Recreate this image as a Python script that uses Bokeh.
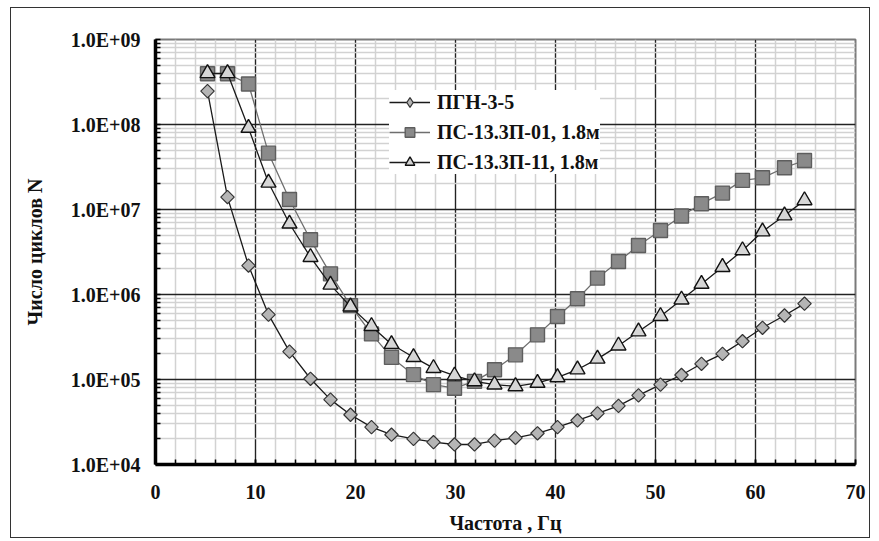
import math
from bokeh.plotting import figure
from bokeh.models import (Range1d, CustomJSTickFormatter, FixedTicker, Legend,
                          LegendItem, ColumnDataSource)
from bokeh.embed import file_html
from bokeh.resources import INLINE

# ---- data ----
freq = [5.2, 7.2, 9.3, 11.3, 13.4, 15.5, 17.5, 19.5, 21.6, 23.6,
        25.8, 27.8, 29.9, 31.9, 33.9, 36.0, 38.2, 40.2, 42.2, 44.2,
        46.3, 48.3, 50.5, 52.6, 54.6, 56.7, 58.7, 60.7, 62.9, 64.9]
pgn = [2.47e8, 1.4e7, 2.19e6, 5.8e5, 2.13e5, 1.02e5, 5.8e4, 3.85e4, 2.75e4, 2.24e4,
       2.0e4, 1.83e4, 1.72e4, 1.72e4, 1.91e4, 2.06e4, 2.33e4, 2.75e4, 3.3e4, 4.0e4,
       4.9e4, 6.5e4, 8.7e4, 1.13e5, 1.53e5, 2.0e5, 2.82e5, 4.06e5, 5.66e5, 7.8e5]
ps01 = [3.95e8, 3.95e8, 3.0e8, 4.6e7, 1.31e7, 4.4e6, 1.75e6, 7.4e5, 3.44e5, 1.82e5,
        1.14e5, 8.7e4, 7.9e4, 9.5e4, 1.3e5, 1.95e5, 3.35e5, 5.5e5, 8.9e5, 1.56e6,
        2.44e6, 3.77e6, 5.66e6, 8.4e6, 1.17e7, 1.56e7, 2.2e7, 2.36e7, 3.1e7, 3.77e7]
ps11 = [4.0e8, 4.0e8, 9.1e7, 2.06e7, 6.8e6, 2.75e6, 1.3e6, 7.2e5, 4.24e5, 2.6e5,
        1.83e5, 1.36e5, 1.11e5, 9.5e4, 8.7e4, 8.3e4, 9.1e4, 1.06e5, 1.31e5, 1.75e5,
        2.5e5, 3.67e5, 5.56e5, 8.7e5, 1.33e6, 2.1e6, 3.3e6, 5.5e6, 8.5e6, 1.28e7]
names = ["ПГН-3-5", "ПС-13.3П-01, 1.8м", "ПС-13.3П-11, 1.8м"]
x_ticks = [0, 10, 20, 30, 40, 50, 60, 70]
x_minor = list(range(0, 71, 2))
y_ticks = [1e4, 1e5, 1e6, 1e7, 1e8, 1e9]
y_minor = [m * 10 ** e for e in range(4, 9) for m in range(2, 10)]
x_title = "Частота , Гц"
y_title = "Число циклов N"

FONT = "Liberation Serif"

p = figure(width=860, height=531,
           x_range=Range1d(0, 70), y_range=Range1d(1e4, 1e9),
           y_axis_type="log", output_backend="svg", toolbar_location=None,
           min_border_left=144, min_border_right=16,
           min_border_top=31, min_border_bottom=75,
           background_fill_color="white", border_fill_color="white")
p.styles = {"margin-left": "10px", "margin-top": "7px",
            "border": "1.5px solid #333"}
# range used only to keep the legend's sample diamond out of the plot area
p.extra_y_ranges = {"legend_only": Range1d(1e12, 1e13)}

p.outline_line_color = "#7a7a7a"
p.outline_line_width = 2

# ticks
p.xaxis.ticker = FixedTicker(ticks=x_ticks, minor_ticks=x_minor)
p.yaxis.ticker = FixedTicker(ticks=y_ticks, minor_ticks=y_minor)
p.yaxis.formatter = CustomJSTickFormatter(code="""
const e = Math.round(Math.log10(tick));
return '1.0E+' + (e < 10 ? '0' : '') + e;
""")

for ax in (p.xaxis, p.yaxis):
    ax.axis_line_width = 3.5
    ax.axis_line_color = "black"
    ax.major_tick_in = 5
    ax.major_tick_out = 0
    ax.minor_tick_in = 5
    ax.minor_tick_out = 0
    ax.major_tick_line_width = 1.5
    ax.minor_tick_line_width = 1.5
    ax.major_tick_line_color = "black"
    ax.minor_tick_line_color = "black"
    ax.major_label_text_font = FONT
    ax.major_label_text_font_style = "bold"
    ax.major_label_text_font_size = "20px"
    ax.major_label_text_color = "#111111"
    ax.axis_label_text_font = FONT
    ax.axis_label_text_font_style = "bold"
    ax.axis_label_text_font_size = "20px"
    ax.axis_label_text_color = "#111111"

p.xaxis.axis_label = x_title
p.yaxis.axis_label = y_title
p.xaxis.major_label_standoff = 20
p.xaxis.axis_label_standoff = 10
p.yaxis.major_label_standoff = 15
p.yaxis.axis_label_standoff = 22

# grids
for g in (p.xgrid, p.ygrid):
    g.grid_line_color = "#222222"
    g.grid_line_width = 1.3
    g.minor_grid_line_color = "#d2d2d2"
    g.minor_grid_line_width = 1.5

src = ColumnDataSource(dict(freq=freq, pgn=pgn, ps01=ps01, ps11=ps11))

# series
l1 = p.line("freq", "pgn", source=src, line_color="#1a1a1a", line_width=1.3)
s1 = p.scatter("freq", "pgn", source=src, marker="square", angle=math.pi / 4,
               size=9.5, fill_color="#b5b5b5", line_color="#333333", line_width=1.2)
# legend sample (legend does not rotate markers): same data, mapped on a range
# that keeps it outside the visible frame
s1_leg = p.scatter("freq", "pgn", source=src, marker="diamond", size=15,
                   fill_color="#b5b5b5", line_color="#333333", line_width=1.2,
                   y_range_name="legend_only")

l2 = p.line("freq", "ps01", source=src, line_color="#6e6e6e", line_width=1.3)
s2 = p.scatter("freq", "ps01", source=src, marker="square", size=14,
               fill_color="#8a8a8a", line_color="#5e5e5e", line_width=1.4)

l3 = p.line("freq", "ps11", source=src, line_color="#1a1a1a", line_width=1.3)
s3 = p.scatter("freq", "ps11", source=src, marker="triangle", size=15,
               fill_color="#d6d6d6", line_color="#111111", line_width=1.4)

lg = Legend(items=[
    LegendItem(label=names[0], renderers=[l1, s1_leg]),
    LegendItem(label=names[1], renderers=[l2, s2]),
    LegendItem(label=names[2], renderers=[l3, s3]),
])
lg.location = (234, 290)
lg.background_fill_color = "white"
lg.background_fill_alpha = 1.0
lg.border_line_color = None
lg.padding = 8
lg.margin = 0
lg.spacing = 6
lg.glyph_width = 41
lg.glyph_height = 24
lg.label_height = 20
lg.label_standoff = 7
lg.label_text_font = FONT
lg.label_text_font_style = "bold"
lg.label_text_font_size = "20px"
lg.label_text_color = "#111111"
p.add_layout(lg, "center")

open("out.html", "w").write(file_html(p, INLINE))
